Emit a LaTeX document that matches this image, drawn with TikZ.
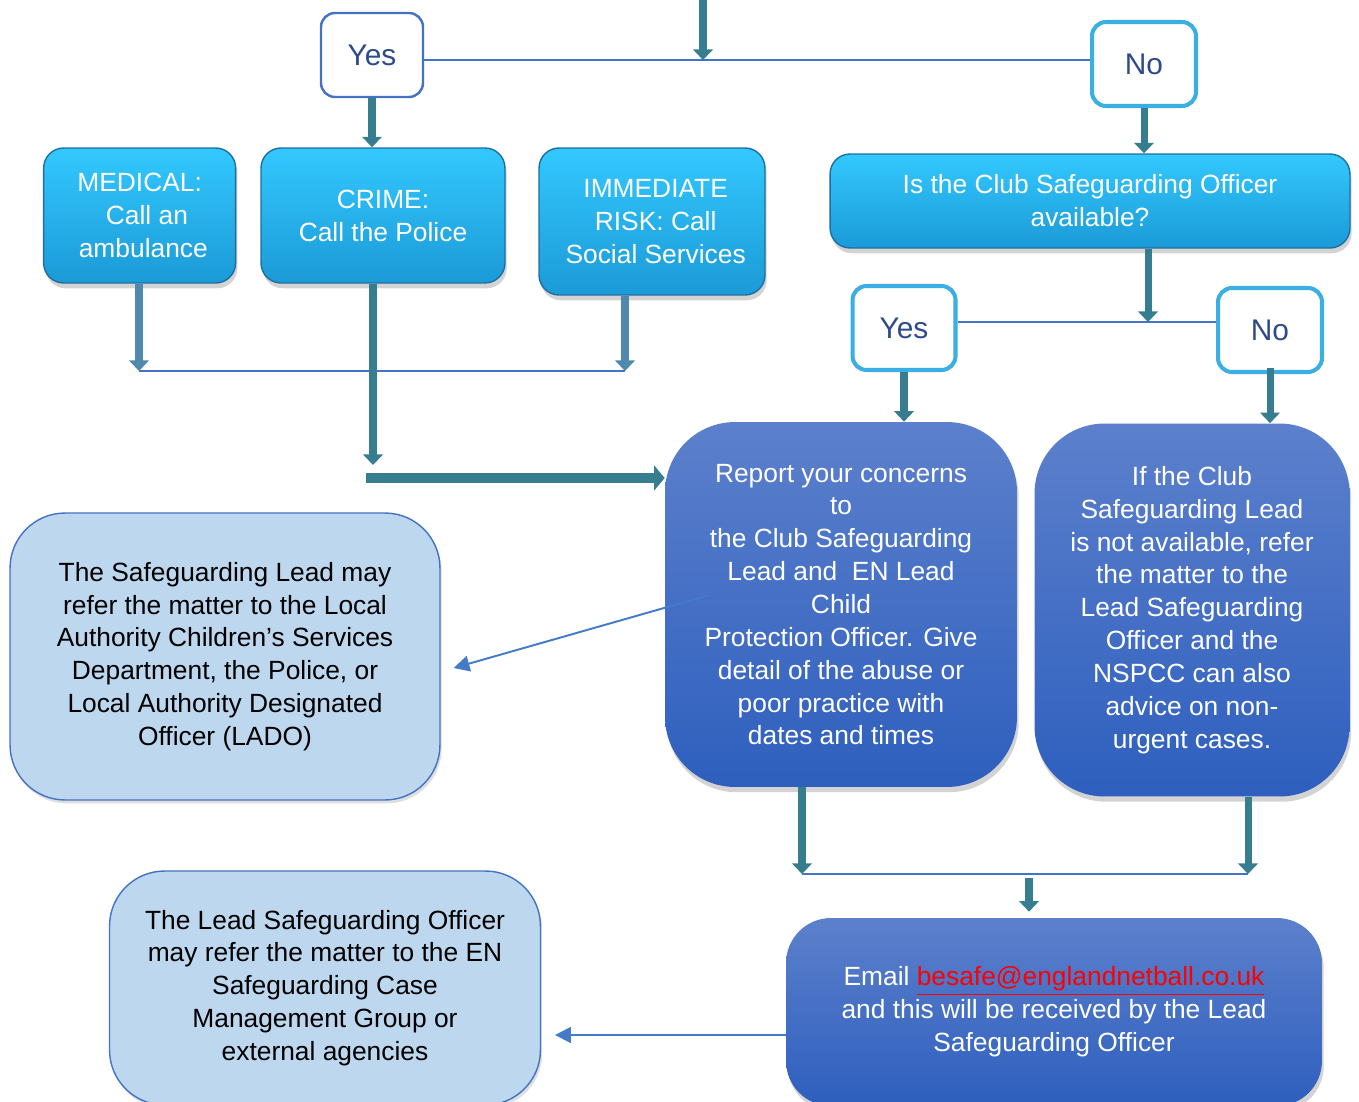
\documentclass[tikz,border=0pt]{standalone}
\usepackage{fontspec}
\setmainfont{Liberation Sans}
\usetikzlibrary{positioning,arrows.meta,shadows}
\definecolor{TealArrow}{HTML}{367E8F}
\definecolor{SoftArrow}{HTML}{4F89AE}
\definecolor{LineBlue}{HTML}{4472C4}
\definecolor{SkyEdge}{HTML}{3BAEE3}
\definecolor{YesText}{HTML}{2E4A8A}
\definecolor{CyanTop}{HTML}{33C8FF}
\definecolor{CyanBot}{HTML}{1B9AD6}
\definecolor{CyanEdge}{HTML}{1C6FA3}
\definecolor{BlueTop}{HTML}{5C80CC}
\definecolor{BlueBot}{HTML}{2E5FBE}
\definecolor{PaleBlue}{HTML}{BDD7EE}
\definecolor{LinkRed}{HTML}{FF0000}
\tikzstyle{TextFont}=[font=\fontsize{15}{18.7}\selectfont, align=center]
\tikzstyle{YesBox}=[rectangle, rounded corners=0.28cm, draw=LineBlue, line width=1.4pt, fill=white, text=YesText, minimum width=2.04cm, minimum height=1.68cm, font=\fontsize{17}{20}\selectfont]
\tikzstyle{SkyBox}=[YesBox, draw=SkyEdge, line width=2.3pt]
\tikzstyle{CallBox}=[rectangle, rounded corners=0.4cm, draw=CyanEdge, line width=0.8pt, top color=CyanTop, bottom color=CyanBot, text=white, TextFont, drop shadow={opacity=0.35, shadow xshift=1pt, shadow yshift=-3pt}]
\tikzstyle{BlueBox}=[rectangle, rounded corners=1.4cm, top color=BlueTop, bottom color=BlueBot, text=white, TextFont, drop shadow={opacity=0.35, shadow xshift=1pt, shadow yshift=-3pt}]
\tikzstyle{PaleBox}=[rectangle, rounded corners=1.1cm, draw=LineBlue, line width=0.8pt, fill=PaleBlue, text=black, TextFont, drop shadow={opacity=0.25, shadow xshift=1pt, shadow yshift=-2pt}]
\tikzstyle{Flecha}=[-{Triangle[width=11pt,length=6pt]}, draw=TealArrow, line width=4pt]
\tikzstyle{FlechaSoft}=[Flecha, draw=SoftArrow]
\tikzstyle{ThinLine}=[-, draw=LineBlue, line width=1.1pt]
\tikzstyle{ThinArrow}=[-{Triangle[width=9pt,length=9pt]}, draw=LineBlue!85!SkyEdge, line width=1.1pt]

\begin{document}
\begin{tikzpicture}[x=0.02cm, y=-0.02cm]
			\useasboundingbox (0,0) rectangle (1359,1102);

			%Nodes
			\node[YesBox]		(yes1)		at (372,55)		{Yes};
			\node[SkyBox, minimum width=2.08cm]		(no1)		at (1144,64)	{No};

			\node[CallBox, minimum width=4.88cm, minimum height=2.7cm]		(crime)		at (383,215.5)	{CRIME:\\Call the Police};
			\node[CallBox, minimum width=3.84cm, minimum height=2.7cm]		(medical)	[left=0.48cm of crime]	{MEDICAL:\\ \ \ Call an\\ \ ambulance};
			\node[CallBox, minimum width=4.52cm, minimum height=2.94cm]		(risk)		at (652,221.5)	{\ IMMEDIATE\\\ RISK: Call\\\ Social Services};
			\node[CallBox, minimum width=10.4cm, minimum height=1.88cm]		(club)		at (1090,201)	{Is the Club Safeguarding Officer\\available?};

			\node[SkyBox, minimum width=2.06cm]		(yes2)		at (904,328)	{Yes};
			\node[SkyBox, minimum width=2.08cm]		(no2)		at (1270,330)	{No};

			\node[BlueBox, minimum width=7.04cm, minimum height=7.3cm]		(report)	at (841,604.5)	{Report your concerns\\to\\the Club Safeguarding\\Lead and \ EN Lead\\Child\\Protection Officer. Give\\detail of the abuse or\\poor practice with\\dates and times};
			\node[BlueBox, minimum width=6.3cm, minimum height=7.46cm]		(ifclub)	at (1192,610)	{If the Club\\Safeguarding Lead\\is not available, refer\\the matter to the\\Lead Safeguarding\\Officer and the\\NSPCC can also\\advice on non-\\urgent cases.};

			\node[PaleBox, minimum width=8.6cm, minimum height=5.74cm]		(la)		at (225,656.5)	{The Safeguarding Lead may\\refer the matter to the Local\\Authority Children's Services\\Department, the Police, or\\Local Authority Designated\\Officer (LADO)};
			\node[PaleBox, minimum width=8.62cm, minimum height=4.68cm]		(lead)		at (325,988)	{The Lead Safeguarding Officer\\may refer the matter to the EN\\Safeguarding Case\\Management Group or\\external agencies};
			\node[BlueBox, rounded corners=0.9cm, minimum width=10.72cm, minimum height=3.76cm]	(email)	at (1054,1012)	{Email {\color{LinkRed}\underline{besafe@englandnetball.co.uk}}\\and this will be received by the Lead\\Safeguarding Officer};

			%Joins
			\coordinate (top) at (703,0);
			\coordinate (j1) at (703,60);
			\coordinate (j2) at (139,371);
			\coordinate (j3) at (625,371);
			\coordinate (j4) at (373,465);
			\coordinate (j5) at (366,478);
			\coordinate (j6) at (1148,322);
			\coordinate (j8) at (802,874);
			\coordinate (j9) at (1248,874);
			\coordinate (j10) at (1029,878);
			\coordinate (j11) at (555,1035);

			%Lines
			\draw[ThinLine] (yes1.east |- j1) -- (no1.west |- j1);
			\draw[Flecha] (top) -- (j1);
			\draw[Flecha] (yes1.south) -- (yes1.south |- crime.north);
			\draw[Flecha] (no1.south) -- (no1.south |- club.north);

			\draw[ThinLine] (j2) -- (j3);
			\draw[FlechaSoft] (medical.south -| j2) -- (j2);
			\draw[FlechaSoft] (risk.south -| j3) -- (j3);
			\draw[Flecha] (crime.south -| j4) -- (j4);
			\draw[Flecha, line width=5.5pt, -{Triangle[width=14pt,length=6pt]}] (j5) -- (j5 -| report.west);

			\draw[ThinLine] (yes2.east |- j6) -- (no2.west |- j6);
			\draw[Flecha] (club.south -| j6) -- (j6);
			\draw[Flecha] (yes2.south) -- (yes2.south |- report.north);
			\draw[Flecha] ([yshift=0.12cm]no2.south) -- (no2.south |- ifclub.north);

			\draw[ThinArrow] ([xshift=0.9cm, yshift=0.19cm]report.west) -- ([xshift=0.26cm, yshift=-0.23cm]la.east);

			\draw[ThinLine] (j8) -- (j9);
			\draw[Flecha] (report.south -| j8) -- (j8);
			\draw[Flecha] (ifclub.south -| j9) -- (j9);
			\draw[Flecha] (j10) -- ([yshift=0.12cm]j10 |- email.north);

			\draw[ThinArrow] (email.west |- j11) -- (j11);

		\end{tikzpicture}
\end{document}
